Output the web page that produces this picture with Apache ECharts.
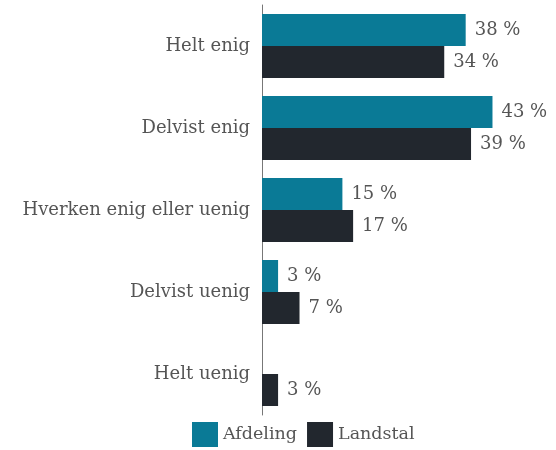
<!DOCTYPE html>
<html>
<head>
<meta charset="utf-8">
<script src="https://cdn.jsdelivr.net/npm/echarts@6/dist/echarts.min.js"></script>
<style>
  html, body { margin: 0; padding: 0; background: #fff; }
  #bar { width: 556px; height: 450px; }
</style>
</head>
<body>
<div id="bar"></div>
<script>
// svar fordelt
var categories = ['Helt enig', 'Delvist enig', 'Hverken enig eller uenig', 'Delvist uenig', 'Helt uenig'];
var afdeling = [38, 43, 15, 3, null];
var landstal = [34, 39, 17, 7, 3];

var myChart = echarts.init(document.getElementById('bar'));

var labelStyle = {
    show: true,
    position: 'right',
    distance: 9,
    formatter: '{c} %',
    color: '#555',
    fontFamily: 'DejaVu Serif',
    fontSize: 18
};

option = {
    animation: false,
    legend: {
        top: 422,
        left: 192,
        padding: 0,
        itemWidth: 26,
        itemHeight: 25,
        itemGap: 10,
        icon: 'rect',
        textStyle: { color: '#555', fontFamily: 'DejaVu Serif', fontSize: 17.5 },
        data: ['Afdeling', 'Landstal']
    },
    grid: {
        top: 5,
        left: 262,
        right: 26,
        bottom: 35
    },
    xAxis: {
        type: 'value',
        min: 0,
        max: 50,
        show: false
    },
    yAxis: {
        type: 'category',
        inverse: true,
        data: categories,
        axisLine: { lineStyle: { color: '#777', width: 1 } },
        axisTick: { alignWithLabel: true, length: 6, lineStyle: { color: '#aaa' } },
        axisLabel: { color: '#555', fontFamily: 'DejaVu Serif', fontSize: 18, margin: 12 }
    },
    series: [{
        name: 'Afdeling',
        type: 'bar',
        color: '#0a7a96',
        barWidth: 32,
        barGap: 0,
        label: labelStyle,
        data: afdeling
    }, {
        name: 'Landstal',
        type: 'bar',
        color: '#22272e',
        barWidth: 32,
        barGap: 0,
        label: labelStyle,
        data: landstal
    }]
};

myChart.setOption(option);

window.addEventListener('resize', function() {
    myChart.resize()
})
</script>
</body>
</html>
